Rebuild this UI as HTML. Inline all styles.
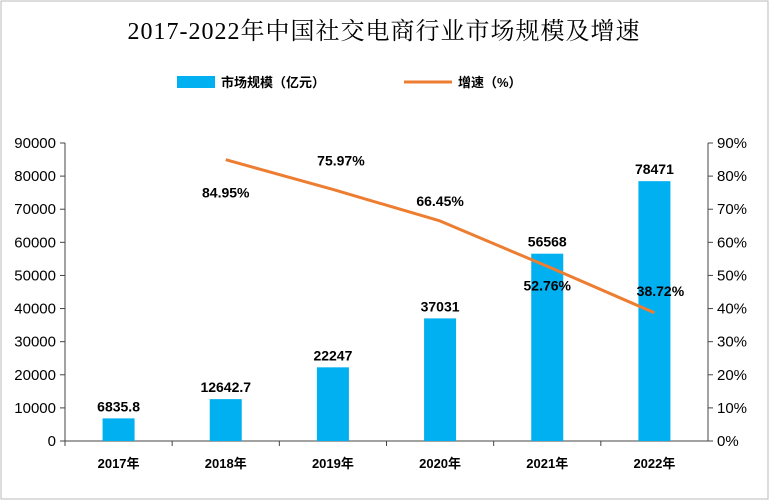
<!DOCTYPE html>
<html><head><meta charset="utf-8">
<style>
body{margin:0;background:#fff;}
svg{display:block;font-family:"Liberation Sans","Noto Sans CJK SC",sans-serif;}
</style></head>
<body>
<svg id="c" width="769" height="500">
<rect x="1" y="1" width="767" height="498" fill="#fff" stroke="#bbb"/>
<text x="384" y="39" text-anchor="middle" font-size="24" letter-spacing="1" font-family="'Liberation Serif','Noto Serif CJK SC',serif" fill="#000">2017-2022年中国社交电商行业市场规模及增速</text>
<g>
<rect x="177" y="76" width="38" height="12" fill="#00b0f0"/>
<text x="221" y="87" font-size="13" font-weight="bold">市场规模（亿元）</text>
<line x1="404" y1="82" x2="452" y2="82" stroke="#ed7d31" stroke-width="3"/>
<text x="458" y="87" font-size="13" font-weight="bold">增速（%）</text>
</g>
<g id="plot"></g>
</svg>
<script>
const categories=["2017年","2018年","2019年","2020年","2021年","2022年"];
const marketSize=[6835.8,12642.7,22247,37031,56568,78471];
const marketLabels=["6835.8","12642.7","22247","37031","56568","78471"];
const growth=[null,84.95,75.97,66.45,52.76,38.72];
const growthLabels=["","84.95%","75.97%","66.45%","52.76%","38.72%"];
const leftTicks=[0,10000,20000,30000,40000,50000,60000,70000,80000,90000];
const rightTicks=[0,10,20,30,40,50,60,70,80,90];
const labelDy=[0,33,-29,-20,19,-22];
const labelDx=[0,0,8,0,0,6];
const NS="http://www.w3.org/2000/svg";
const g=document.getElementById('plot');
const X0=65,X1=708,Y0=441,Y1=143;
const band=(X1-X0)/categories.length;
const xc=i=>X0+band*(i+0.5);
const yl=v=>Y0-(v/90000)*(Y0-Y1);
const yr=v=>Y0-(v/90)*(Y0-Y1);
function mk(t,a,txt){const e=document.createElementNS(NS,t);for(const k in a)e.setAttribute(k,a[k]);if(txt!==undefined)e.textContent=txt;g.appendChild(e);return e;}
let e;
e=mk('line',{x1:X0,y1:Y1,x2:X0,y2:Y0,stroke:'#444'});


e=mk('line',{x1:X1,y1:Y1,x2:X1,y2:Y0,stroke:'#444'});


e=mk('line',{x1:X0,y1:Y0,x2:X1,y2:Y0,stroke:'#444'});


leftTicks.forEach(v=>{
 e=mk('line',{x1:X0-5,y1:yl(v),x2:X0,y2:yl(v),stroke:'#444'});
 
 
 e=mk('text',{x:X0-9,y:yl(v)+5,'text-anchor':'end','font-size':15},String(v));
 
 
});
rightTicks.forEach(v=>{
 e=mk('line',{x1:X1,y1:yr(v),x2:X1+5,y2:yr(v),stroke:'#444'});
 
 
 e=mk('text',{x:X1+9,y:yr(v)+5,'font-size':15},v+'%');
 
 
});
categories.forEach((c,i)=>{
 e=mk('line',{x1:X0+band*i,y1:Y0,x2:X0+band*i,y2:Y0+5,stroke:'#444'});
 
 
 e=mk('text',{x:xc(i),y:468,'text-anchor':'middle','font-size':13,'font-weight':'bold'},c);
 
 
 const v=marketSize[i];
 e=mk('rect',{x:xc(i)-16,y:yl(v),width:32,height:Y0-yl(v),fill:'#00b0f0'});
 
 
 e=mk('text',{x:xc(i),y:yl(v)-7,'text-anchor':'middle','font-size':14,'font-weight':'bold'},marketLabels[i]);
 
 
});
let pts=[];
growth.forEach((v,i)=>{if(v!==null)pts.push(xc(i)+','+yr(v));});
e=mk('polyline',{points:pts.join(' '),fill:'none',stroke:'#ed7d31','stroke-width':3,'stroke-linejoin':'round'});


growth.forEach((v,i)=>{
 if(v===null)return;
 e=mk('text',{x:xc(i)+labelDx[i],y:yr(v)+labelDy[i]+5,'text-anchor':'middle','font-size':14,'font-weight':'bold'},growthLabels[i]);
 
 
});
</script>
</body></html>
